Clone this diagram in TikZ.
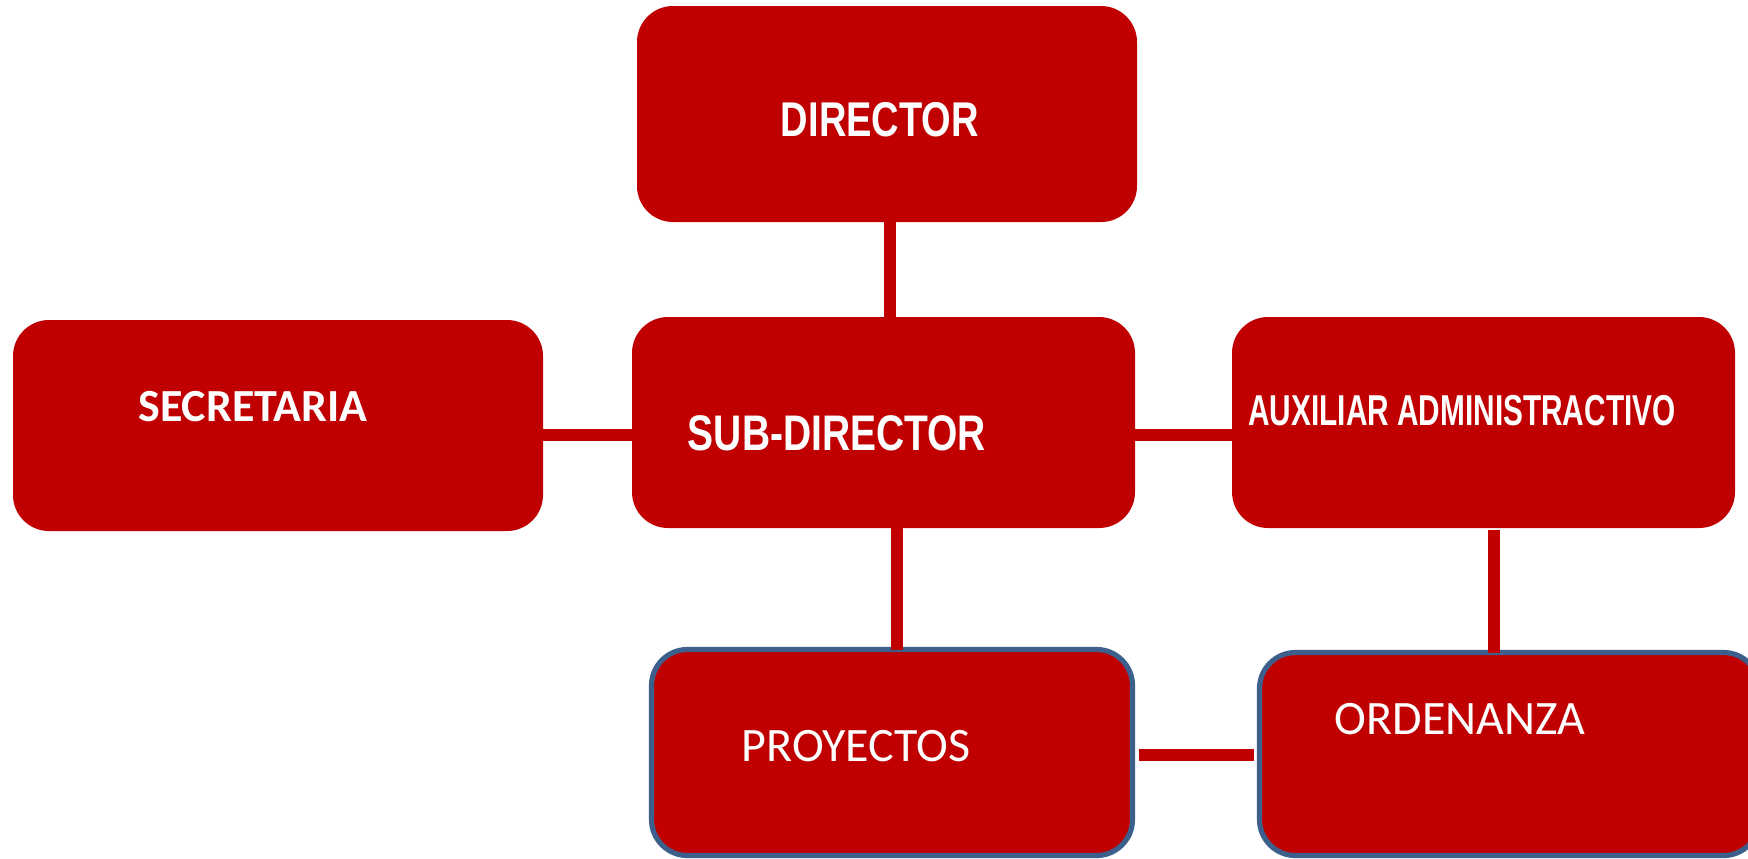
\documentclass[tikz,border=0pt]{standalone}
\usepackage{fontspec}
\setmainfont{Liberation Sans}
\newfontfamily\arialn[FakeStretch=0.78]{Liberation Sans}
\newfontfamily\arialnn[FakeStretch=0.69]{Liberation Sans}
\newfontfamily\calib{Carlito}
\definecolor{boxred}{HTML}{C00000}
\definecolor{boxblue}{HTML}{3C5F8C}
\tikzset{
  box/.style={rectangle, fill=boxred, draw=none, rounded corners=18pt, inner sep=0pt, outer sep=0pt},
  bbox/.style={box, draw=boxblue, line width=2.6pt},
  conn/.style={draw=boxred, line width=6pt},
  txt/.style={text=white, inner sep=0pt, outer sep=0pt}
}
\begin{document}
\begin{tikzpicture}[x=0.5pt,y=-0.5pt]
\useasboundingbox (0,0) rectangle (1748,858);
\begin{scope}
\clip (0,0) rectangle (1748,858);
\node[box, minimum width=250pt, minimum height=108pt] (dir) at (887,114) {};
\node[box, minimum width=265pt, minimum height=105.5pt] (sec) at (278,425.5) {};
\node[box, minimum width=251.5pt, minimum height=105.5pt] (sub) at (883.5,422.5) {};
\node[box, minimum width=251.5pt, minimum height=105.5pt] (aux) at (1483.5,422.5) {};
\node[bbox, minimum width=240.5pt, minimum height=103pt] (proy) at (892,752.5) {};
\node[bbox, minimum width=250pt, minimum height=101.5pt] (ord) at (1509.5,754) {};

\draw[conn] ([xshift=1.5pt]dir.south) -- ([xshift=3.25pt]sub.north);
\draw[conn] ([yshift=-4.75pt]sec.east) -- ([yshift=-6.25pt]sub.west);
\draw[conn] ([yshift=-6.25pt]sub.east) -- ([yshift=-6.25pt]aux.west);
\draw[conn] ([xshift=6.75pt]sub.south) -- ([xshift=2.5pt]proy.north);
\draw[conn] ([xshift=5.25pt,yshift=-1pt]aux.south) -- ([xshift=-7.75pt]ord.north);
\draw[conn, shorten <=3pt, shorten >=3pt] ([yshift=-1.25pt]proy.east) -- ([yshift=-0.5pt]ord.west);

\node[txt, font=\arialn\bfseries\fontsize{24.4}{28}\selectfont] (tdir) at (880,119.5) {DIRECTOR};
\node[txt, font=\calib\bfseries\fontsize{23}{27}\selectfont] (tsec) at (253,407) {SECRETARIA};
\node[txt, font=\arialn\bfseries\fontsize{25}{29}\selectfont] (tsub) at (837,433) {SUB-DIRECTOR};
\node[txt, font=\arialnn\bfseries\fontsize{21.6}{25}\selectfont] (taux) at (1462,411) {AUXILIAR ADMINISTRACTIVO};
\node[txt, font=\calib\fontsize{24}{28}\selectfont] (tproy) at (856,746) {PROYECTOS};
\node[txt, font=\calib\fontsize{24}{28}\selectfont] (tord) at (1460,719) {ORDENANZA};
\end{scope}
\end{tikzpicture}
\end{document}
